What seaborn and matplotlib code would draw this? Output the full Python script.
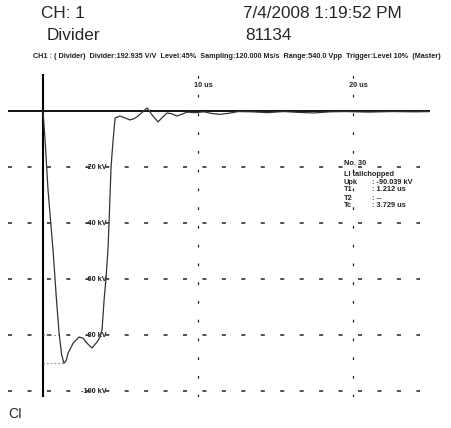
import numpy as np
import pandas as pd
import matplotlib
matplotlib.use("Agg")
import matplotlib.pyplot as plt
import seaborn as sns

# Waveform (time in us, voltage in kV)
time_us = [0.0, 0.15, 0.32, 0.5, 0.65, 0.85, 1.03, 1.2, 1.35, 1.5, 1.62, 1.94,
           2.32, 2.58, 2.84, 3.16, 3.48, 3.68, 3.81, 3.94, 4.06, 4.19, 4.26,
           4.39, 4.52, 4.65, 4.97, 5.3, 5.61, 5.85, 6.06, 6.4, 6.71, 7.05,
           7.42, 7.7, 8.0, 8.3, 8.65, 9.3, 9.8, 10.4, 10.9, 11.4, 12.0, 12.6,
           13.5, 14.5, 15.5, 16.5, 17.5, 18.5, 19.5, 21.0, 22.5, 24.0, 25.0]
voltage_kv = [0.0, -12.0, -28.0, -40.0, -50.0, -66.0, -79.0, -87.0, -90.04,
              -89.0, -86.4, -82.9, -80.7, -81.1, -82.9, -84.6, -82.5, -80.7,
              -78.0, -67.5, -60.0, -49.6, -40.0, -20.0, -10.4, -2.5, -1.8,
              -2.5, -3.2, -2.8, -2.1, -0.5, 1.1, -1.5, -3.9, -2.3, -0.7, -1.0,
              -1.8, -0.4, -0.6, -0.3, -0.9, -1.2, -0.8, -0.2, -0.3, -0.6, -0.2,
              -0.5, -0.7, -0.3, -0.2, -0.4, -0.2, -0.3, -0.2]

grid_kv = [-20, -40, -60, -80, -100]
grid_labels = ["-20 kV", "-40 kV", "-60 kV", "-80 kV", "-100 kV"]
grid_us = [10, 20]
grid_us_labels = ["10 us", "20 us"]

upk = -90.039
info_keys = ["No. 30", "LI tailchopped", "Upk", "T1", "T2", "Tc"]
info_vals = ["", "", ": -90.039 kV", ": 1.212 us", ": --", ": 3.729 us"]

df = pd.DataFrame({"time": time_us, "voltage": voltage_kv})

sns.set_style("white")
plt.rcParams["font.family"] = ["Liberation Sans", "DejaVu Sans"]
plt.rcParams["lines.scale_dashes"] = False

W, H = 451, 428
fig = plt.figure(figsize=(W / 100, H / 100), dpi=100)
ax = fig.add_axes([8 / W, 1 - 397 / H, 422 / W, 323 / H])
xmin, xmax = -2.26, 24.97
ymin, ymax = -102.1, 13.2
ax.set_xlim(xmin, xmax)
ax.set_ylim(ymin, ymax)
ax.axis("off")

# dashed grid
ax.hlines(grid_kv, xmin, 24.3, colors="#222222", linewidth=1.1,
          linestyles=[(0, (2.9, 11.1))])
for t in grid_us:
    ax.plot([t, t], [ymin, ymax], color="#222222", linewidth=0.9,
            linestyle=(0, (2.0, 11.5)))
# axes lines
ax.axhline(0, color="black", linewidth=1.3)
ax.axvline(0, color="black", linewidth=1.5)

# Upk / 80 % marker lines
fall = df[df["time"] <= 1.35]
t80 = np.interp(80, -fall["voltage"], fall["time"])
ax.plot([0, t80], [-80, -80], color="#888888", linewidth=0.8, linestyle=":")
ax.plot([0, 1.35], [upk, upk], color="#888888", linewidth=0.8, linestyle=":")

sns.lineplot(data=df, x="time", y="voltage", ax=ax, color="#333333",
             linewidth=0.9, sort=False)

small = dict(fontsize=5.3, family=["Liberation Sans Narrow", "Liberation Sans"],
             fontweight="bold", color="#222222")
box = dict(facecolor="white", edgecolor="none", pad=1.0)
for v, lab in zip(grid_kv, grid_labels):
    ax.text(4.1, v, lab, ha="right", va="center", bbox=box, zorder=1.5, **small)
for t, lab in zip(grid_us, grid_us_labels):
    ax.text(t - 0.25, 9.0, lab, ha="left", va="center", bbox=box, zorder=1.5, **small)

# measurement box
ys = [-18.9, -22.5, -25.7, -28.2, -31.1, -33.6]
for y, k, val in zip(ys, info_keys, info_vals):
    ax.text(19.4, y, k, ha="left", va="center", bbox=box, zorder=1.5, **small)
    if val:
        ax.text(21.2, y, val, ha="left", va="center", bbox=box, zorder=1.5, **small)

# header
def ftext(x, y, s, **kw):
    fig.text(x / W, 1 - y / H, s, va="center", **kw)

ftext(41, 14, "CH: 1", fontsize=12.3)
ftext(243, 14, "7/4/2008 1:19:52 PM", fontsize=12.3)
ftext(47, 36, "Divider", fontsize=12.3)
ftext(245, 36, "81134", fontsize=12.3)
info = dict(small, fontsize=5.2)
ftext(33, 57, "CH1 : ( Divider)  Divider:192.935 V/V  Level:45%  Sampling:120.000 Ms/s  "
      "Range:540.0 Vpp  Trigger:Level 10%  (Master)", **info)
ftext(8, 414, "CI", fontsize=10)

fig.savefig("out.png", dpi=100)
